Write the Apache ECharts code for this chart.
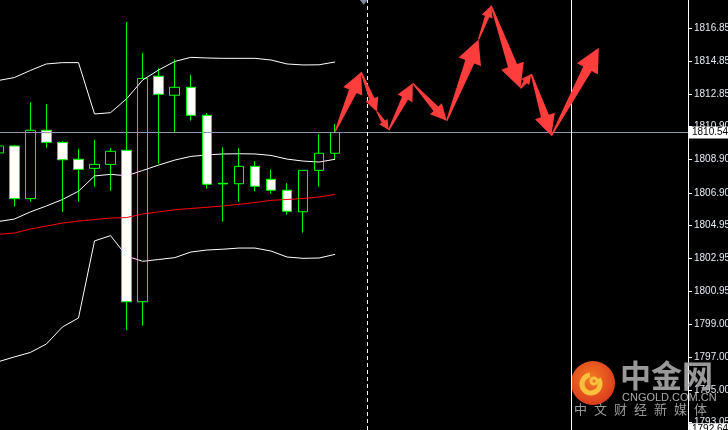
<!DOCTYPE html>
<html>
<head>
<meta charset="utf-8">
<script src="https://cdn.jsdelivr.net/npm/echarts@6.0.0/dist/echarts.min.js"></script>
<style>
html, body { margin: 0; padding: 0; background: #000; }
#chart { width: 728px; height: 430px; }
</style>
</head>
<body>
<div id="chart"></div>
<script>
// bar slots: 22 candles drawn, the rest is empty space on the right
var slots = Array.from({ length: 44 }, function (_, i) { return String(i); });

// [open, close, low, high]
var candles = [
  [1809.31, 1809.73, 1809.13, 1809.85],
  [1809.73, 1806.55, 1806.07, 1809.79],
  [1806.55, 1810.68, 1806.37, 1812.37],
  [1810.68, 1809.95, 1809.63, 1812.25],
  [1809.95, 1808.90, 1805.76, 1810.01],
  [1808.93, 1808.32, 1806.37, 1809.55],
  [1808.38, 1808.62, 1807.27, 1810.09],
  [1808.62, 1809.41, 1807.03, 1809.61],
  [1809.47, 1800.33, 1798.62, 1817.21],
  [1800.33, 1813.81, 1798.88, 1815.34],
  [1813.94, 1812.85, 1808.66, 1814.42],
  [1812.79, 1813.27, 1810.59, 1814.96],
  [1813.27, 1811.58, 1811.26, 1814.01],
  [1811.58, 1807.42, 1807.15, 1811.72],
  [1807.48, 1807.44, 1805.16, 1809.65],
  [1807.45, 1808.50, 1806.37, 1809.59],
  [1808.50, 1807.30, 1807.00, 1808.81],
  [1807.72, 1807.06, 1806.85, 1808.32],
  [1807.06, 1805.79, 1805.58, 1807.48],
  [1805.76, 1808.26, 1804.50, 1808.26],
  [1808.26, 1809.29, 1807.27, 1810.44],
  [1809.29, 1810.54, 1808.93, 1811.06]
];

var bandUpper = [1813.68, 1813.86, 1814.29, 1814.68, 1814.76, 1814.76, 1811.66, 1811.74, 1812.58, 1813.71, 1814.32,
  1814.83, 1815.08, 1815.04, 1815.02, 1815.02, 1815.02, 1814.92, 1814.68, 1814.62, 1814.63, 1814.80];
var bandMiddle = [1805.17, 1805.32, 1805.75, 1806.11, 1806.50, 1807.00, 1807.92, 1808.02, 1807.93, 1808.25, 1808.58,
  1808.88, 1809.10, 1809.19, 1809.25, 1809.26, 1809.25, 1809.16, 1808.94, 1808.82, 1808.76, 1808.93];
var bandLower = [1796.71, 1797.00, 1797.27, 1797.78, 1798.81, 1799.35, 1804.00, 1804.32, 1803.09, 1802.77, 1802.88,
  1802.99, 1803.33, 1803.45, 1803.50, 1803.57, 1803.57, 1803.39, 1803.03, 1802.95, 1802.97, 1803.19];
var maRed = [1804.39, 1804.48, 1804.72, 1804.90, 1805.08, 1805.20, 1805.29, 1805.38, 1805.41, 1805.63, 1805.75,
  1805.88, 1805.96, 1806.03, 1806.11, 1806.21, 1806.32, 1806.45, 1806.50, 1806.56, 1806.65, 1806.81];

// forecast arrows: [fromSlot, fromPrice, toSlot, toPrice]
var arrows = [
  [21.0, 1810.60, 22.62, 1814.18],
  [22.62, 1814.18, 23.61, 1811.80],
  [23.61, 1811.80, 24.34, 1810.69],
  [24.34, 1810.69, 25.84, 1813.51],
  [25.84, 1813.51, 27.96, 1811.26],
  [27.96, 1811.26, 29.94, 1816.16],
  [29.94, 1816.16, 30.73, 1818.20],
  [30.73, 1818.20, 32.56, 1813.21],
  [32.56, 1813.21, 33.23, 1814.07],
  [33.23, 1814.07, 34.48, 1810.35],
  [34.48, 1810.35, 37.44, 1815.66]
];

var priceTicks = [1793.05, 1795.00, 1797.00, 1799.00, 1800.95, 1802.95, 1804.95,
  1806.90, 1808.90, 1810.90, 1812.85, 1814.85, 1816.85];
var lastPrice = 1810.54;
var bottomPrice = 1792.64;
var separatorSlot = 23;
var cursorSlot = 35.73;
var sloganChars = ['中', '文', '财', '经', '新', '媒', '体'];

var chart = echarts.init(document.getElementById('chart'));

function bandSeries(name, values, color) {
  return {
    name: name, type: 'line', data: values, xAxisIndex: 0,
    symbol: 'none', z: 5, silent: true,
    lineStyle: { color: color, width: 1 }
  };
}

var priceLabel = {
  show: true, position: 'end', distance: 1,
  backgroundColor: '#fff', color: '#000', padding: [1, 4, 1, 3], fontSize: 10,
  fontFamily: 'Liberation Sans, Arial, sans-serif'
};

// watermark, bottom right
var watermark = [
  {
    type: 'group', left: 571, top: 361, z: 100, silent: true,
    children: [
      { type: 'circle', shape: { cx: 23, cy: 23, r: 22 },
        style: { fill: new echarts.graphic.RadialGradient(0.45, 0.4, 0.7, [
          { offset: 0, color: '#f47a22' }, { offset: 1, color: '#d8321c' }]) } },
      { type: 'arc', shape: { cx: 21, cy: 24, r: 9, startAngle: -0.6, endAngle: 4.6 },
        style: { stroke: '#f9c03c', lineWidth: 5, fill: null } },
      { type: 'arc', shape: { cx: 24, cy: 21, r: 3, startAngle: 0, endAngle: 6.28 },
        style: { stroke: '#f9c03c', lineWidth: 3, fill: null } }
    ]
  },
  { type: 'text', left: 620, top: 360, z: 100, silent: true,
    style: { text: '中金网', fill: 'rgba(170,170,170,0.9)', font: 'bold 31px "Noto Sans CJK SC"' } },
  { type: 'text', left: 622, top: 392, z: 100, silent: true,
    style: { text: 'CNGOLD.COM.CN', fill: 'rgba(200,200,200,0.85)', font: '11px "Liberation Sans", Arial' } }
];
sloganChars.forEach(function (ch, k) {
  watermark.push({ type: 'text', left: 574 + k * 20, top: 403, z: 100, silent: true,
    style: { text: ch, fill: 'rgba(170,170,170,0.9)', font: '13px "Noto Sans CJK SC"' } });
});

var option = {
  backgroundColor: '#000',
  animation: false,
  grid: { left: -1.7, right: 40, top: 0, bottom: 0, containLabel: false, outerBoundsMode: 'none' },
  xAxis: [
    { type: 'category', data: slots, boundaryGap: false, show: false },
    { type: 'value', min: 0, max: 43, show: false }
  ],
  yAxis: {
    type: 'value', position: 'right', min: 1792.59, max: 1818.54,
    splitLine: { show: false },
    axisLine: { show: true, onZero: false, lineStyle: { color: '#fff', width: 1 } },
    axisTick: { show: true, length: 4, customValues: priceTicks, lineStyle: { color: '#fff' } },
    axisLabel: {
      customValues: priceTicks, color: '#e6ecf5', fontSize: 10, margin: 6,
      fontFamily: 'Liberation Sans, Arial, sans-serif',
      formatter: function (v) { return v.toFixed(2); }
    }
  },
  series: [
    {
      type: 'candlestick', data: candles, xAxisIndex: 0, barWidth: 10, z: 3,
      itemStyle: { color: '#000', color0: '#fff', borderColor: '#00ff00', borderColor0: '#00ff00', borderWidth: 1 },
      markLine: {
        silent: true, symbol: 'none', animation: false,
        data: [
          {
            yAxis: lastPrice,
            lineStyle: { color: '#8a9aab', type: 'solid', width: 1 },
            label: Object.assign({ formatter: lastPrice.toFixed(2) }, priceLabel)
          },
          {
            yAxis: bottomPrice,
            lineStyle: { color: 'rgba(0,0,0,0)', width: 1 },
            label: Object.assign({ formatter: bottomPrice.toFixed(2) }, priceLabel)
          }
        ]
      }
    },
    bandSeries('upper', bandUpper, '#fff'),
    bandSeries('middle', bandMiddle, '#fff'),
    bandSeries('lower', bandLower, '#fff'),
    bandSeries('ma', maRed, '#ff0000'),
    {
      type: 'custom', xAxisIndex: 1, data: arrows, z: 6, clip: false,
      encode: { x: [0, 2], y: [1, 3] },
      renderItem: function (params, api) {
        var a = api.coord([api.value(0), api.value(1)]);
        var b = api.coord([api.value(2), api.value(3)]);
        var dx = b[0] - a[0], dy = b[1] - a[1];
        var len = Math.sqrt(dx * dx + dy * dy);
        var ux = dx / len, uy = dy / len, nx = -uy, ny = ux;
        var head = Math.max(10, Math.min(24, len * 0.32));
        var hw = head * 0.5, sw = head * 0.2, tw = 0.7;
        var bx = b[0] - ux * head, by = b[1] - uy * head;
        return {
          type: 'polygon',
          shape: {
            points: [
              [a[0] + nx * tw, a[1] + ny * tw],
              [bx + nx * sw, by + ny * sw],
              [bx + nx * hw, by + ny * hw],
              b,
              [bx - nx * hw, by - ny * hw],
              [bx - nx * sw, by - ny * sw],
              [a[0] - nx * tw, a[1] - ny * tw]
            ]
          },
          style: { fill: '#ff3d3d' }
        };
      },
      markLine: {
        silent: true, symbol: 'none', animation: false, label: { show: false },
        data: [
          { xAxis: separatorSlot, lineStyle: { color: '#fff', type: [4, 3], width: 1 } },
          { xAxis: cursorSlot, lineStyle: { color: '#fff', type: 'solid', width: 1 } }
        ]
      },
      markPoint: {
        silent: true, animation: false,
        data: [{ coord: [separatorSlot - 0.22, 1818.4], symbol: 'triangle', symbolRotate: 180, symbolSize: [8, 5],
          itemStyle: { color: '#7d8a99' }, label: { show: false } }]
      }
    }
  ],
  graphic: watermark
};

chart.setOption(option);
</script>
</body>
</html>
